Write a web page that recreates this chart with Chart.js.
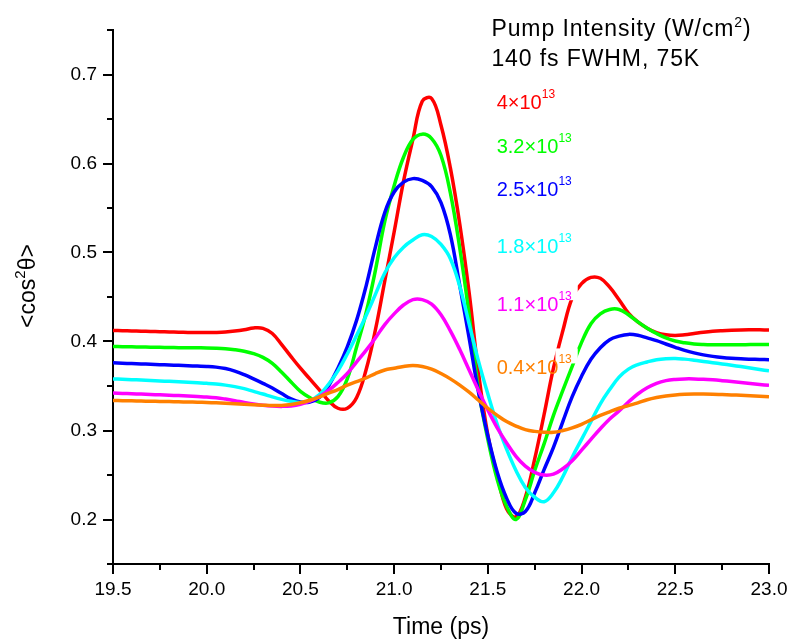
<!DOCTYPE html>
<html>
<head>
<meta charset="utf-8">
<script src="https://cdn.jsdelivr.net/npm/chart.js@4.4.1/dist/chart.umd.min.js"></script>
<style>
  html, body { margin: 0; padding: 0; background: #fff; }
  canvas { display: block; }
</style>
</head>
<body>
<canvas id="chart" width="792" height="643"></canvas>
<script>
// delay time (ps), common to all curves
const time = [
    19.50, 19.55, 19.60, 19.65, 19.70, 19.75, 19.80, 19.85, 19.90, 19.95,
    20.00, 20.05, 20.10, 20.15, 20.20, 20.25, 20.30, 20.35, 20.40, 20.45,
    20.50, 20.55, 20.60, 20.65, 20.70, 20.75, 20.80, 20.85, 20.90, 20.95,
    21.00, 21.05, 21.10, 21.15, 21.20, 21.25, 21.30, 21.35, 21.40, 21.45,
    21.50, 21.55, 21.60, 21.65, 21.70, 21.75, 21.80, 21.85, 21.90, 21.95,
    22.00, 22.05, 22.10, 22.15, 22.20, 22.25, 22.30, 22.35, 22.40, 22.45,
    22.50, 22.55, 22.60, 22.65, 22.70, 22.75, 22.80, 22.85, 22.90, 22.95,
    23.00
];

// <cos^2 theta>, one array per pump intensity
const red = [
    .4125, .4122, .4119, .4116, .4113, .4110, .4107, .4104, .4102, .4100,
    .4100, .4102, .4107, .4117, .4132, .4152, .4148, .4090, .3965, .3830,
    .3700, .3580, .3460, .3335, .3250, .3250, .3370, .3680, .4130, .4680,
    .5230, .5800, .6270, .6700, .6730, .6430, .5950, .5320, .4550, .3650,
    .2950, .2500, .2120, .2030, .2250, .2680, .3180, .3700, .4120, .4490,
    .4650, .4720, .4710, .4610, .4470, .4320, .4220, .4150, .4100, .4075,
    .4068, .4076, .4090, .4104, .4115, .4122, .4127, .4130, .4131, .4131,
    .4130
];
const green = [
    .3945, .3942, .3940, .3938, .3936, .3934, .3932, .3931, .3930, .3929,
    .3928, .3925, .3919, .3908, .3891, .3864, .3822, .3755, .3655, .3545,
    .3440, .3370, .3320, .3310, .3380, .3580, .3940, .4320, .4800, .5350,
    .5750, .6070, .6270, .6330, .6280, .6090, .5670, .5050, .4300, .3460,
    .2900, .2450, .2150, .2000, .2220, .2550, .2850, .3170, .3450, .3720,
    .3990, .4200, .4310, .4360, .4360, .4300, .4220, .4150, .4090, .4040,
    .4005, .3985, .3973, .3967, .3964, .3963, .3963, .3964, .3965, .3966,
    .3967
];
const blue = [
    .3760, .3756, .3752, .3748, .3744, .3740, .3736, .3732, .3728, .3724,
    .3720, .3712, .3696, .3668, .3628, .3580, .3530, .3478, .3415, .3355,
    .3320, .3320, .3370, .3500, .3700, .3940, .4240, .4620, .5060, .5450,
    .5680, .5790, .5830, .5810, .5740, .5560, .5200, .4630, .4040, .3430,
    .2940, .2530, .2240, .2070, .2090, .2300, .2560, .2810, .3100, .3380,
    .3610, .3800, .3930, .4020, .4060, .4080, .4070, .4040, .4010, .3972,
    .3935, .3900, .3872, .3850, .3833, .3820, .3811, .3805, .3801, .3798,
    .3796
];
const cyan = [
    .3580, .3575, .3571, .3567, .3562, .3557, .3552, .3547, .3542, .3536,
    .3530, .3522, .3510, .3493, .3470, .3440, .3410, .3378, .3350, .3328,
    .3315, .3335, .3400, .3520, .3670, .3860, .4070, .4290, .4530, .4770,
    .4940, .5060, .5140, .5200, .5180, .5090, .4930, .4620, .4200, .3780,
    .3410, .3070, .2790, .2550, .2360, .2250, .2200, .2300, .2480, .2700,
    .2900, .3100, .3300, .3460, .3600, .3690, .3740, .3770, .3795, .3807,
    .3810, .3802, .3790, .3776, .3762, .3748, .3733, .3718, .3702, .3686,
    .3670
];
const magenta = [
    .3420, .3417, .3413, .3409, .3405, .3401, .3397, .3392, .3387, .3382,
    .3377, .3368, .3353, .3335, .3315, .3297, .3283, .3274, .3271, .3276,
    .3295, .3330, .3380, .3450, .3540, .3640, .3770, .3900, .4040, .4190,
    .4310, .4410, .4470, .4470, .4420, .4300, .4120, .3910, .3680, .3450,
    .3230, .3030, .2860, .2710, .2600, .2530, .2500, .2510, .2570, .2660,
    .2780, .2900, .3020, .3130, .3220, .3320, .3410, .3480, .3530, .3560,
    .3574, .3580, .3580, .3576, .3569, .3560, .3550, .3540, .3529, .3518,
    .3507
];
const orange = [
    .3337, .3335, .3333, .3331, .3329, .3327, .3325, .3323, .3320, .3318,
    .3315, .3311, .3306, .3300, .3294, .3289, .3284, .3280, .3281, .3292,
    .3312, .3340, .3375, .3420, .3460, .3510, .3550, .3590, .3640, .3680,
    .3700, .3720, .3730, .3720, .3690, .3640, .3580, .3510, .3430, .3340,
    .3250, .3170, .3100, .3050, .3010, .2990, .2980, .2980, .3000, .3030,
    .3070, .3120, .3170, .3210, .3250, .3280, .3310, .3345, .3370, .3388,
    .3400, .3407, .3410, .3410, .3408, .3404, .3400, .3395, .3390, .3384,
    .3378
];

const seriesData = [red, green, blue, cyan, magenta, orange];
const seriesColors = ['#ff0000', '#00ff00', '#0000ff', '#00ffff', '#ff00ff', '#ff8000'];
// pump intensity labels: mantissa and exponent (x10^13 W/cm^2)
const intensityLabels = ['4', '3.2', '2.5', '1.8', '1.1', '0.4'];
const intensityExp = '13';
// where each intensity label sits, in data units (baseline of the text)
const labelTime = 21.547;
const labelLevels = [0.661, 0.612, 0.564, 0.500, 0.434, 0.363];

const xMajorTicks = [19.5, 20.0, 20.5, 21.0, 21.5, 22.0, 22.5, 23.0];
const xMinorTicks = [19.75, 20.25, 20.75, 21.25, 21.75, 22.25, 22.75];
const yMajorTicks = [0.2, 0.3, 0.4, 0.5, 0.6, 0.7];
const yMinorTicks = [0.15, 0.25, 0.35, 0.45, 0.55, 0.65, 0.75];

const FAMILY = '"Liberation Sans", Arial, Helvetica, sans-serif';

// draws text made of [text, isSuperscript] pieces left to right
function drawRich(ctx, parts, x, y, size, supSize, raise, color) {
    let cx = x;
    ctx.fillStyle = color;
    parts.forEach(([text, sup]) => {
        ctx.font = `${sup ? supSize : size}px ${FAMILY}`;
        ctx.fillText(text, cx, sup ? y - raise : y);
        cx += ctx.measureText(text).width;
    });
    return cx - x;
}

const annotations = {
    id: 'annotations',
    afterDraw(chart) {
        const { ctx, chartArea, scales: { x, y } } = chart;
        ctx.save();
        ctx.textBaseline = 'alphabetic';
        ctx.textAlign = 'left';

        // minor ticks
        ctx.strokeStyle = '#000';
        ctx.lineWidth = 2;
        ctx.beginPath();
        xMinorTicks.forEach(v => {
            const px = Math.round(x.getPixelForValue(v));
            ctx.moveTo(px, chartArea.bottom);
            ctx.lineTo(px, chartArea.bottom + 6);
        });
        yMinorTicks.forEach(v => {
            const py = Math.round(y.getPixelForValue(v));
            ctx.moveTo(chartArea.left - 6, py);
            ctx.lineTo(chartArea.left, py);
        });
        ctx.stroke();

        // intensity labels; the exponent sits on a white patch that hides the curves behind it
        const lx = x.getPixelForValue(labelTime);
        intensityLabels.forEach((m, i) => {
            const ly = y.getPixelForValue(labelLevels[i]);
            ctx.font = `20px ${FAMILY}`;
            const bw = ctx.measureText(m + '\u00d710').width;
            ctx.font = `12px ${FAMILY}`;
            const sw = ctx.measureText(intensityExp).width;
            ctx.fillStyle = '#fff';
            ctx.fillRect(lx + bw - 3, ly - 11 - 15, sw + 9, 15);
        });
        intensityLabels.forEach((m, i) => {
            drawRich(ctx, [[m + '\u00d710', false], [intensityExp, true]],
                lx, y.getPixelForValue(labelLevels[i]), 20, 12, 11, seriesColors[i]);
        });

        // header
        ctx.letterSpacing = '0.9px';
        const hx = x.getPixelForValue(21.519);
        drawRich(ctx, [['Pump Intensity (W/cm', false], ['2', true], [')', false]],
            hx, y.getPixelForValue(0.7433), 23, 14, 9, '#000');
        drawRich(ctx, [['140 fs FWHM, 75K', false]],
            hx, y.getPixelForValue(0.7096), 23, 14, 9, '#000');
        ctx.letterSpacing = '0px';

        // axis titles
        ctx.font = `23px ${FAMILY}`;
        ctx.fillStyle = '#000';
        ctx.textAlign = 'center';
        ctx.fillText('Time (ps)', (chartArea.left + chartArea.right) / 2, chartArea.bottom + 70);

        ctx.translate(chartArea.left - 78, (chartArea.top + chartArea.bottom) / 2 - 11);
        ctx.rotate(-Math.PI / 2);
        ctx.textAlign = 'left';
        const parts = [['<cos', false], ['2', true], ['\u03b8>', false]];
        let total = 0;
        parts.forEach(([t, s]) => {
            ctx.font = `${s ? 15 : 23}px ${FAMILY}`;
            total += ctx.measureText(t).width;
        });
        drawRich(ctx, parts, -total / 2, 0, 23, 15, 10, '#000');
        ctx.restore();
    }
};

const axisStyle = {
    grid: { drawOnChartArea: false, tickLength: 10, lineWidth: 2, color: '#000' },
    border: { display: true, color: '#000', width: 2 }
};

const ctx = document.getElementById('chart').getContext('2d');
new Chart(ctx, {
    type: 'line',
    data: {
        datasets: seriesData.map((vals, i) => ({
            label: intensityLabels[i] + '\u00d710^13',
            data: vals.map((v, k) => ({ x: time[k], y: v })),
            borderColor: seriesColors[i],
            backgroundColor: seriesColors[i],
            borderWidth: 3.5,
            pointRadius: 0,
            fill: false,
            tension: 0.4,
            order: seriesData.length - i  // later series drawn on top
        }))
    },
    options: {
        responsive: false,
        animation: false,
        events: [],
        layout: { padding: { left: 0, right: 23, top: 30, bottom: 0 } },
        plugins: { legend: { display: false }, tooltip: { enabled: false } },
        scales: {
            x: {
                type: 'linear',
                min: 19.5,
                max: 23.0,
                afterBuildTicks: s => { s.ticks = xMajorTicks.map(v => ({ value: v })); },
                afterFit: s => { s.height = 79; },
                ticks: {
                    color: '#000',
                    font: { family: FAMILY, size: 19 },
                    padding: 4,
                    maxRotation: 0,
                    autoSkip: false,
                    callback: v => v.toFixed(1)
                },
                ...axisStyle
            },
            y: {
                type: 'linear',
                min: 0.15,
                max: 0.75,
                afterBuildTicks: s => { s.ticks = yMajorTicks.map(v => ({ value: v })); },
                afterFit: s => { s.width = 113; },
                ticks: {
                    color: '#000',
                    font: { family: FAMILY, size: 19 },
                    padding: 6,
                    autoSkip: false,
                    callback: v => v.toFixed(1)
                },
                ...axisStyle
            }
        }
    },
    plugins: [annotations]
});
</script>
</body>
</html>
